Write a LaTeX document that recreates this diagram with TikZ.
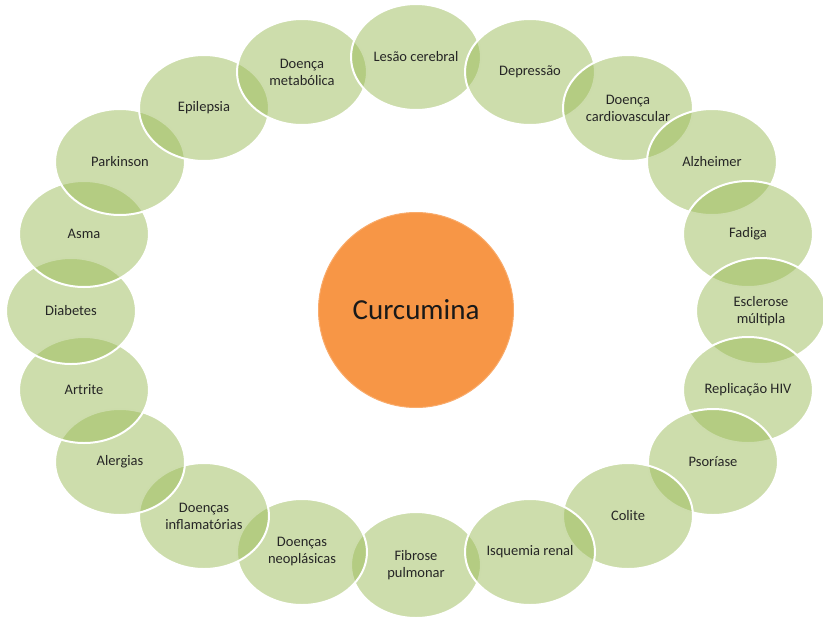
\documentclass[tikz,border=0pt]{standalone}
\usepackage{fontspec}
\setmainfont{Carlito}
\usetikzlibrary{shapes.geometric}
\definecolor{dgreen}{RGB}{155,187,89}
\definecolor{corange}{RGB}{247,150,70}
\begin{document}
\begin{tikzpicture}[x=1pt,y=-1pt,
  disease/.style={ellipse, minimum width=130pt, minimum height=106pt, inner sep=0pt,
    fill=dgreen, fill opacity=0.5, text opacity=1, draw=white, draw opacity=1,
    line width=2pt, font=\fontsize{14.5}{17}\selectfont, text=black!85, align=center},
  core/.style={circle, minimum size=195pt, inner sep=0pt, fill=corange,
    draw=corange!80!white, line width=1pt, font=\fontsize{29}{34}\selectfont, text=black!90}]
\useasboundingbox (0,0) rectangle (823,619);
\node[core] (cur) at (416,310) {Curcumina};
\node[disease] (fib) at (416,565) {Fibrose\\pulmonar};
\node[disease] (neo) at (302,552) {Doenças\\neoplásicas};
\node[disease] (inf) at (204,516) {Doenças\\inflamatórias};
\node[disease] (ale) at (120,462) {Alergias};
\node[disease] (art) at (84,390) {Artrite};
\node[disease] (dia) at (71,311) {Diabetes};
\node[disease] (asm) at (84,234) {Asma};
\node[disease] (par) at (120,162) {Parkinson};
\node[disease] (epi) at (204,108) {Epilepsia};
\node[disease] (met) at (302,72) {Doença\\metabólica};
\node[disease] (les) at (416,57) {Lesão cerebral};
\node[disease] (dep) at (530,72) {Depressão};
\node[disease] (car) at (628,108) {Doença\\cardiovascular};
\node[disease] (alz) at (712,162) {Alzheimer};
\node[disease] (fad) at (748,234) {Fadiga};
\node[disease] (esc) at (761,311) {Esclerose\\múltipla};
\node[disease] (hiv) at (748,390) {Replicação HIV};
\node[disease] (pso) at (713,462) {Psoríase};
\node[disease] (col) at (628,516) {Colite};
\node[disease] (isq) at (530,552) {Isquemia renal};
\end{tikzpicture}
\end{document}
